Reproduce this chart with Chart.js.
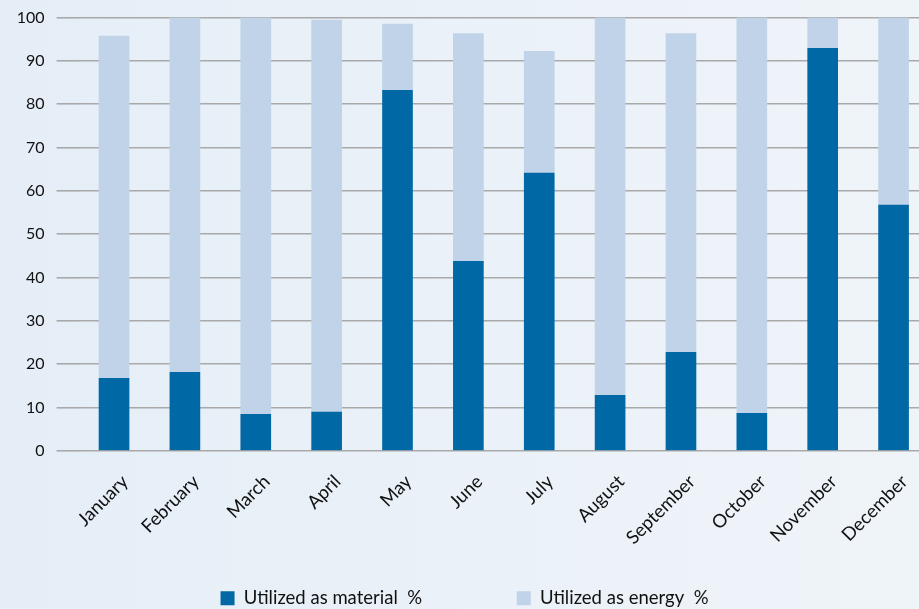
<!DOCTYPE html>
<html>
<head>
<meta charset="utf-8">
<script src="https://cdn.jsdelivr.net/npm/chart.js@4.4.0/dist/chart.umd.min.js"></script>
<style>
  html, body { margin: 0; padding: 0; overflow: hidden; }
  body { width: 919px; height: 609px; background: linear-gradient(to right, #e5eef7, #eff4f9); }
  #wrap { position: absolute; left: 0; top: 0; width: 930px; height: 609px; }
</style>
</head>
<body>
<div id="wrap"><canvas id="c"></canvas></div>
<script>
const categories = ["January","February","March","April","May","June","July","August","September","October","November","December"];
const materialValues = [16.7, 18.1, 8.4, 8.9, 83.2, 43.7, 64.1, 12.8, 22.7, 8.6, 92.9, 56.7];
const energyValues = [79.0, 81.9, 91.6, 90.5, 15.3, 52.6, 28.1, 87.2, 73.6, 91.4, 7.1, 43.3];
const seriesNames = ["Utilized as material  %", "Utilized as energy  %"];
const yTicks = [0,10,20,30,40,50,60,70,80,90,100];

const FONT = "Lato, 'Open Sans', sans-serif";
const DARK = "#0068a4";
const LIGHT = "#c0d3e8";

new Chart(document.getElementById('c'), {
  type: 'bar',
  data: {
    labels: categories,
    datasets: [
      { label: seriesNames[0], data: materialValues, backgroundColor: DARK, barThickness: 30 },
      { label: seriesNames[1], data: energyValues, backgroundColor: LIGHT, barThickness: 30 }
    ]
  },
  options: {
    responsive: true,
    maintainAspectRatio: false,
    animation: false,
    layout: { padding: { top: 17.5, right: 1, left: 0, bottom: -8.5 } },
    plugins: {
      tooltip: { enabled: false },
      legend: {
        position: 'bottom',
        labels: {
          color: '#111',
          font: { family: FONT, size: 18.5 },
          boxWidth: 14, boxHeight: 14,
          padding: 0,
          generateLabels: (chart) => {
            const base = Chart.defaults.plugins.legend.labels.generateLabels(chart);
            base.forEach((l, i) => {
              l.lineWidth = 0;
              if (i === 0) l.text = l.text + '\u00a0'.repeat(20);
            });
            return base;
          }
        }
      }
    },
    scales: {
      x: {
        stacked: true,
        grid: { display: false },
        border: { display: false },
        ticks: { color: '#111', font: { family: FONT, size: 18.5 }, minRotation: 45, maxRotation: 45, padding: 12, labelOffset: 11 },
        afterFit: (s) => { s.height = 138.3; }
      },
      y: {
        stacked: true,
        min: 0, max: 100,
        afterBuildTicks: (s) => { s.ticks = yTicks.map(v => ({ value: v })); },
        grid: { color: '#a9a9a9', lineWidth: 1.6, tickLength: 22, tickColor: '#a9a9a9' },
        border: { display: false },
        ticks: { color: '#111', font: { family: FONT, size: 16 }, padding: 12 },
        afterFit: (s) => { s.width = 78.6; s.paddingTop = 0; s.paddingBottom = 0; }
      }
    }
  }
});
</script>
</body>
</html>
